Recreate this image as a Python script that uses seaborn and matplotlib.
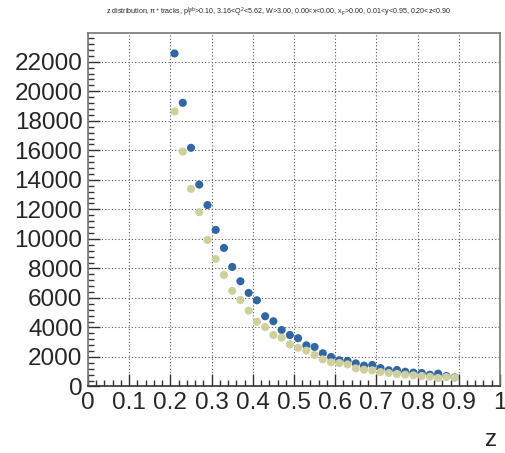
import numpy as np
import pandas as pd
import seaborn as sns
import matplotlib.pyplot as plt
from matplotlib.ticker import MultipleLocator

# bin centres of the z histogram
z_centres = [0.21, 0.23, 0.25, 0.27, 0.29, 0.31, 0.33, 0.35, 0.37, 0.39,
             0.41, 0.43, 0.45, 0.47, 0.49, 0.51, 0.53, 0.55, 0.57, 0.59,
             0.61, 0.63, 0.65, 0.67, 0.69, 0.71, 0.73, 0.75, 0.77, 0.79,
             0.81, 0.83, 0.85, 0.87, 0.89]

counts_blue = [22560, 19220, 16170, 13680, 12290, 10610, 9390, 8100, 7130, 6340,
               5840, 4760, 4420, 3830, 3490, 3270, 2790, 2680, 2250, 2000,
               1780, 1730, 1570, 1410, 1460, 1250, 1100, 1120, 1000, 940,
               915, 800, 870, 710, 620]

counts_beige = [18630, 15920, 13390, 11810, 9930, 8640, 7560, 6480, 5860, 5140,
                4390, 4030, 3490, 3310, 2860, 2630, 2430, 2140, 1840, 1640,
                1590, 1500, 1230, 1140, 1100, 980, 910, 850, 800, 760,
                710, 660, 580, 640, 600]

x_ticklabels = ['0', '0.1', '0.2', '0.3', '0.4', '0.5', '0.6', '0.7', '0.8', '0.9', '1']

series_names = ['set A', 'set B']
series_colors = ['#2f66a3', '#cfcf9d']

df = pd.DataFrame({
    'z': z_centres + z_centres,
    'count': counts_blue + counts_beige,
    'series': [series_names[0]] * len(z_centres) + [series_names[1]] * len(z_centres),
})

sns.set_style('white')
plt.rcParams['font.family'] = ['Liberation Sans', 'DejaVu Sans']
plt.rcParams['mathtext.fontset'] = 'custom'
plt.rcParams['mathtext.rm'] = 'Liberation Sans'
plt.rcParams['mathtext.it'] = 'Liberation Sans'

fig = plt.figure(figsize=(5.05, 4.53), dpi=100)
ax = fig.add_axes([0.1743, 0.1468, 0.8157, 0.7804])

# beige rows come last so they sit on top of the blue ones
sns.scatterplot(data=df, x='z', y='count', hue='series',
                palette=dict(zip(series_names, series_colors)),
                s=34, linewidth=0, legend=False, ax=ax, zorder=3)

ax.set_xlim(0, 1)
ax.set_ylim(0, 23950)
ax.xaxis.set_minor_locator(MultipleLocator(0.02))
ax.yaxis.set_major_locator(MultipleLocator(2000))
ax.yaxis.set_minor_locator(MultipleLocator(400))
ax.set_xticks(np.arange(0, 1.01, 0.1))
ax.set_xticklabels(x_ticklabels)

ax.grid(True, which='major', linestyle=(0, (1, 2)), color='#555555', linewidth=0.8, zorder=0)
ax.set_axisbelow(True)

ax.tick_params(axis='both', which='major', direction='in', length=8.5, width=1,
               labelsize=17.5, color='#333333', pad=4)
ax.tick_params(axis='both', which='minor', direction='in', length=4.3, width=1, color='#333333')
ax.tick_params(which='both', top=False, right=False, bottom=True, left=True)

for side in ['left', 'right', 'top', 'bottom']:
    ax.spines[side].set_color('#777777')
    ax.spines[side].set_linewidth(1.2)
ax.spines['bottom'].set_color('#333333')

ax.set_ylabel('')
ax.set_xlabel('z', fontsize=17.5)
ax.xaxis.set_label_coords(0.992, -0.151)
ax.xaxis.label.set_horizontalalignment('right')
ax.xaxis.label.set_verticalalignment('center')

fig.text(0.551, 0.972,
         r'z distribution, $\pi^{+}$ tracks, $p_{T}^{lab}$>0.10, 3.16<$Q^{2}$<5.62, W>3.00, '
         r'0.00<x<0.00, $x_{F}$>0.00, 0.01<y<0.95, 0.20<z<0.90',
         ha='center', va='center', fontsize=5.1)

fig.savefig('out.png', dpi=100)
